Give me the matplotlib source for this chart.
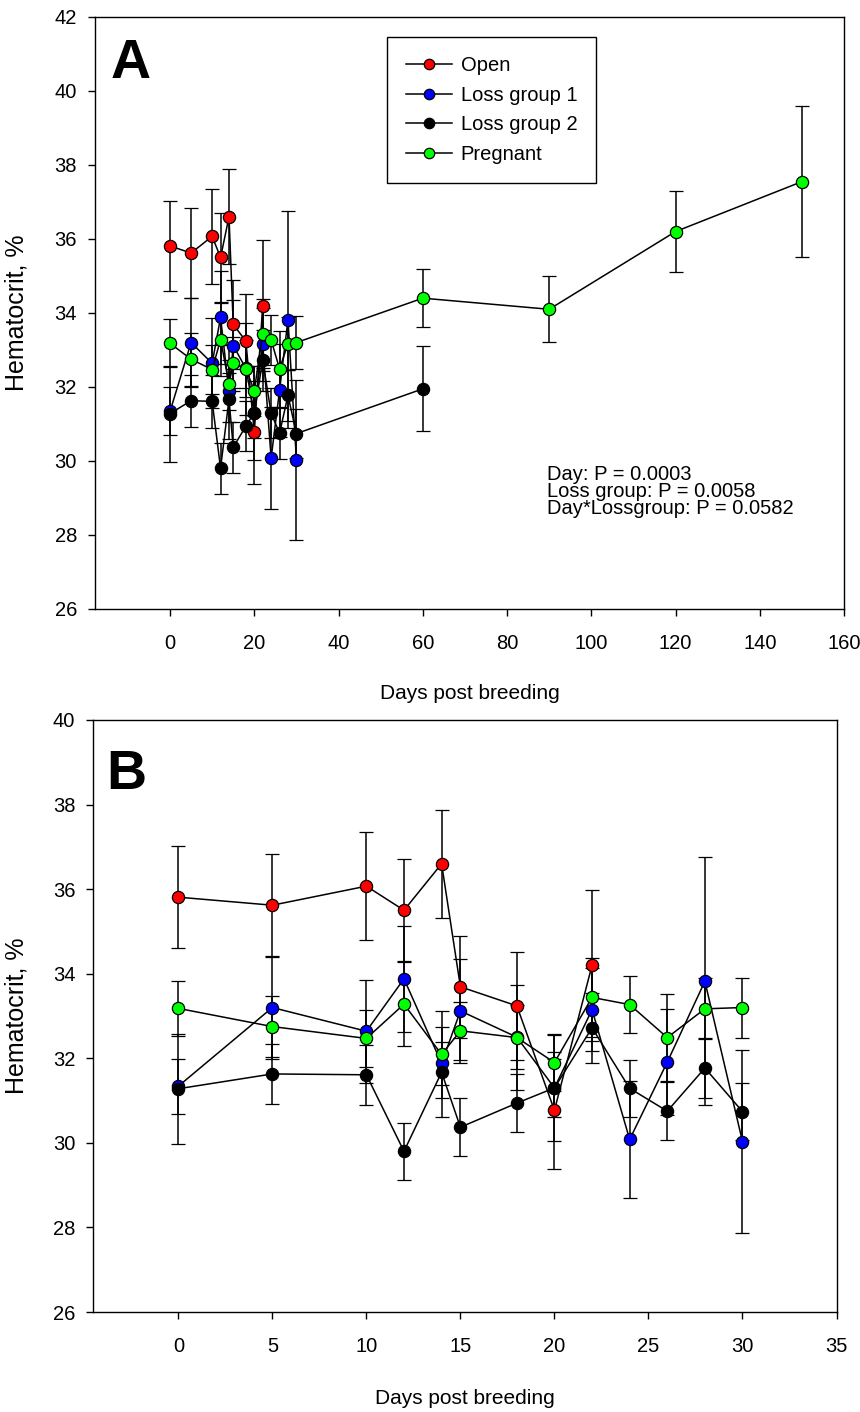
import matplotlib
matplotlib.use('Agg')
import matplotlib.pyplot as plt
from matplotlib.lines import Line2D

'''
hematocrit by days post breeding, two panels (full range and first 30 days)
'''

plt.rcParams['font.family'] = ['Liberation Sans', 'DejaVu Sans']

# days and means / standard errors per group
open_days = [0, 5, 10, 12, 14, 15, 18, 20, 22]
open_mean = [35.81, 35.62, 36.07, 35.50, 36.60, 33.69, 33.24, 30.77, 34.20]
open_se = [1.21, 1.22, 1.28, 1.21, 1.28, 1.21, 1.27, 1.38, 1.78]

loss1_days = [0, 5, 10, 12, 14, 15, 18, 20, 22, 24, 26, 28, 30]
loss1_mean = [31.34, 33.20, 32.64, 33.88, 31.88, 33.12, 32.50, 31.30, 33.15, 30.08, 31.91, 33.82, 30.03]
loss1_se = [0.65, 1.21, 1.22, 1.25, 0.50, 1.23, 0.76, 0.68, 0.98, 1.38, 1.25, 2.93, 2.17]

loss2_days = [0, 5, 10, 12, 14, 15, 18, 20, 22, 24, 26, 28, 30, 60]
loss2_mean = [31.28, 31.63, 31.61, 29.80, 31.67, 30.37, 30.94, 31.30, 32.72, 31.29, 30.75, 31.77, 30.74, 31.95]
loss2_se = [1.30, 0.70, 0.71, 0.68, 1.07, 0.69, 0.68, 1.26, 0.82, 0.68, 0.69, 0.70, 0.67, 1.15]

preg_days = [0, 5, 10, 12, 14, 15, 18, 20, 22, 24, 26, 28, 30, 60, 90, 120, 150]
preg_mean = [33.18, 32.75, 32.47, 33.28, 32.09, 32.65, 32.49, 31.90, 33.44, 33.27, 32.49, 33.17, 33.20,
             34.40, 34.10, 36.20, 37.55]
preg_se = [0.65, 0.72, 0.67, 0.99, 1.04, 0.69, 1.25, 0.68, 0.94, 0.68, 1.03, 0.72, 0.71,
           0.78, 0.89, 1.10, 2.05]

groups = [
  ('Open', open_days, open_mean, open_se, '#ff0000'),
  ('Loss group 1', loss1_days, loss1_mean, loss1_se, '#0000ff'),
  ('Loss group 2', loss2_days, loss2_mean, loss2_se, '#000000'),
  ('Pregnant', preg_days, preg_mean, preg_se, '#00ff00'),
]

stats_lines = ['Day: P = 0.0003', 'Loss group: P = 0.0058', 'Day*Lossgroup: P = 0.0582']

fig = plt.figure(figsize=(8.6, 14.12), dpi=100)
ax_a = fig.add_axes([0.1105, 0.5687, 0.871, 0.4193])
ax_b = fig.add_axes([0.1085, 0.0708, 0.8642, 0.4193])


def draw_groups(ax, max_day):
  for name, days, mean, se, color in groups:
    pts = [(d, m, s) for d, m, s in zip(days, mean, se) if d <= max_day]
    ax.errorbar([p[0] for p in pts], [p[1] for p in pts], yerr=[p[2] for p in pts],
                color='black', linewidth=1.1, elinewidth=1.1, capsize=5.2, capthick=1.1,
                marker='o', markersize=8.8, markerfacecolor=color, markeredgecolor='black',
                markeredgewidth=0.9)


def style_axis(ax, xlim, xticks, ylim, yticks):
  ax.set_xlim(*xlim)
  ax.set_ylim(*ylim)
  ax.set_xticks(xticks)
  ax.set_yticks(yticks)
  ax.tick_params(axis='both', direction='out', length=5, width=1, labelsize=14.5)
  ax.tick_params(axis='x', pad=13)
  ax.tick_params(axis='y', pad=8)
  for spine in ax.spines.values():
    spine.set_linewidth(1.0)
  ax.set_xlabel('Days post breeding', fontsize=15)
  ax.set_ylabel('Hematocrit, %', fontsize=18)


draw_groups(ax_a, 200)
style_axis(ax_a, (-17.8, 160), range(0, 161, 20), (26, 42), range(26, 43, 2))
ax_a.xaxis.set_label_coords(0.5, -0.127)
ax_a.yaxis.set_label_coords(-0.089, 0.5)
ax_a.text(0.021, 0.897, 'A', transform=ax_a.transAxes, fontsize=40, fontweight='bold', va='baseline')

handles = [Line2D([], [], color='black', linewidth=1.1, marker='o', markersize=7.5,
                  markerfacecolor=color, markeredgecolor='black', markeredgewidth=0.9)
           for _, _, _, _, color in groups]
leg = ax_a.legend(handles, [g[0] for g in groups], loc='upper left', bbox_to_anchor=(0.39, 0.966),
                  borderaxespad=0, fontsize=14.5, handlelength=2.25, handletextpad=0.45,
                  labelspacing=0.52, borderpad=0.95, fancybox=False, edgecolor='black', framealpha=1)
leg.get_frame().set_linewidth(1.0)

for i, line in enumerate(stats_lines):
  ax_a.text(0.6035, 0.2264 - i * 0.0285, line, transform=ax_a.transAxes, fontsize=14.5, va='center')

draw_groups(ax_b, 35)
style_axis(ax_b, (-4.52, 35), range(0, 36, 5), (26, 40), range(26, 41, 2))
ax_b.xaxis.set_label_coords(0.5, -0.13)
ax_b.yaxis.set_label_coords(-0.087, 0.5)
ax_b.text(0.018, 0.883, 'B', transform=ax_b.transAxes, fontsize=40, fontweight='bold', va='baseline')

fig.savefig('out.png', dpi=100)
